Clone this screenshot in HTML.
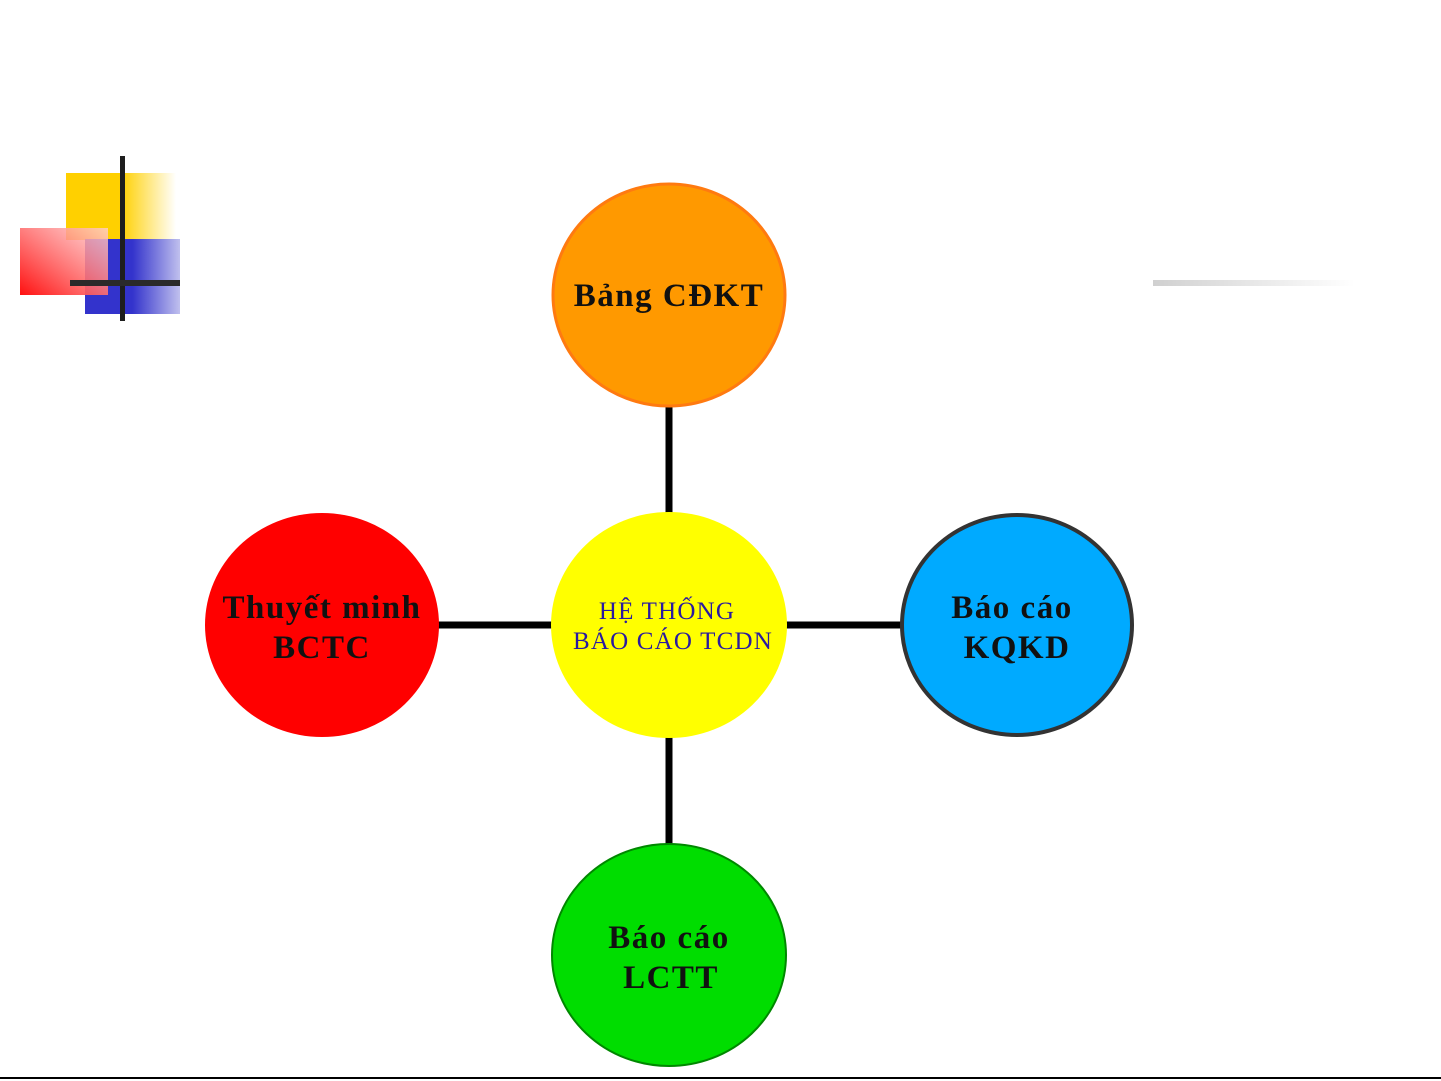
<!DOCTYPE html>
<html><head><meta charset="utf-8"><style>
html,body{margin:0;padding:0;background:#fff;width:1441px;height:1081px;overflow:hidden}
</style></head><body>
<svg width="1441" height="1081" xmlns="http://www.w3.org/2000/svg">
<defs>
<linearGradient id="yg" x1="0" x2="1"><stop offset="0" stop-color="#ffd000"/><stop offset="0.5" stop-color="#ffd000"/><stop offset="1" stop-color="#fff" /></linearGradient>
<linearGradient id="bg" x1="0" x2="1"><stop offset="0" stop-color="#3333cc"/><stop offset="0.5" stop-color="#3333cc"/><stop offset="1" stop-color="#c0c0ee"/></linearGradient>
<linearGradient id="rg" x1="0" y1="1" x2="1" y2="0"><stop offset="0" stop-color="#ff1010"/><stop offset="1" stop-color="#ffd0d0" stop-opacity="0.8"/></linearGradient>
<linearGradient id="gl" x1="0" x2="1"><stop offset="0" stop-color="#d0d0d0"/><stop offset="1" stop-color="#fff"/></linearGradient>
</defs>
<rect x="66" y="173" width="110" height="67" fill="url(#yg)"/>
<rect x="85" y="239" width="95" height="75" fill="url(#bg)"/>
<rect x="20" y="228" width="88" height="67" fill="url(#rg)"/>
<rect x="120" y="156" width="5" height="165" fill="#1e1e1e"/>
<rect x="70" y="280" width="110" height="6" fill="#2a2a2a"/>
<rect x="1153" y="280" width="202" height="6" fill="url(#gl)"/>
<g stroke="#000" stroke-width="7">
<line x1="669" y1="405" x2="669" y2="515"/>
<line x1="669" y1="735" x2="669" y2="845"/>
<line x1="438" y1="625" x2="555" y2="625"/>
<line x1="785" y1="625" x2="902" y2="625"/>
</g>
<ellipse cx="669" cy="295" rx="116" ry="111" fill="#ff9900" stroke="#ff7a10" stroke-width="3"/>
<ellipse cx="322" cy="625" rx="117" ry="112" fill="#ff0000"/>
<ellipse cx="669" cy="625" rx="118" ry="113" fill="#ffff00"/>
<ellipse cx="1017" cy="625" rx="115" ry="110" fill="#00aaff" stroke="#333" stroke-width="4"/>
<ellipse cx="669" cy="955" rx="117" ry="111" fill="#00dd00" stroke="#008800" stroke-width="2"/>
<g font-family="Liberation Serif, serif" font-weight="bold" text-anchor="middle" fill="#111" letter-spacing="1.5">
<text x="669" y="306" font-size="33">Bảng CĐKT</text>
<text x="322" y="618" font-size="33">Thuyết minh</text>
<text x="322" y="658" font-size="33">BCTC</text>
<text x="1012" y="618" font-size="33">Báo cáo</text>
<text x="1017" y="658" font-size="33">KQKD</text>
<text x="669" y="948" font-size="33">Báo cáo</text>
<text x="671" y="988" font-size="33">LCTT</text>
</g>
<g font-family="Liberation Serif, serif" text-anchor="middle" fill="#2a1aa0" font-size="25" letter-spacing="1.2">
<text x="667" y="619">HỆ THỐNG</text>
<text x="673" y="649">BÁO CÁO TCDN</text>
</g>
<rect x="0" y="1077" width="1441" height="2" fill="#000"/>
</svg>
</body></html>
